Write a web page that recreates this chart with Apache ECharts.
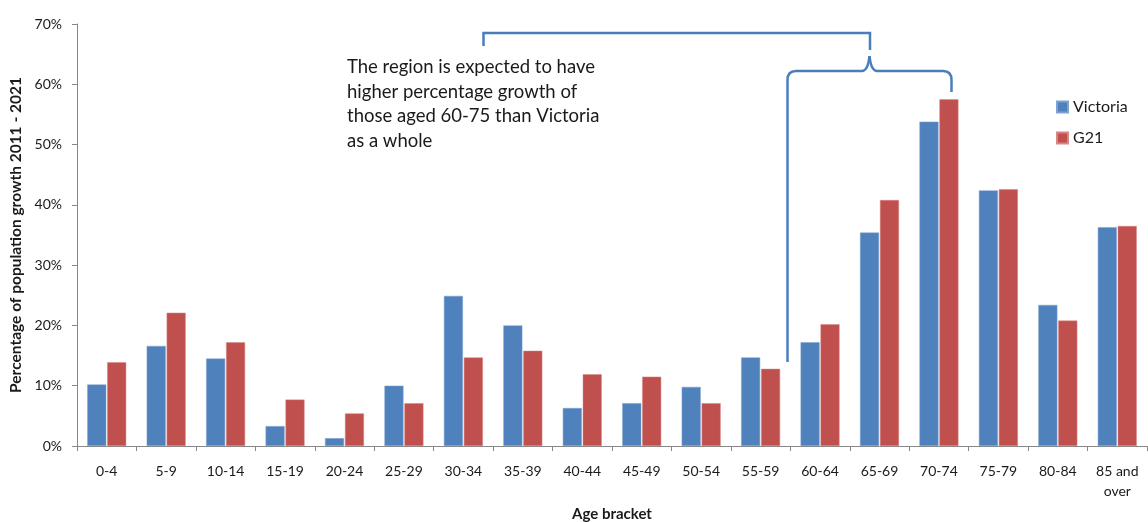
<!DOCTYPE html>
<html>
<head>
    <meta charset="utf-8">
    <title>Population growth by age bracket</title>
    <script src="https://cdn.jsdelivr.net/npm/echarts@6/dist/echarts.min.js"></script>
    <style>
        html, body { margin: 0; padding: 0; background: #fff; }
        #chart { width: 1148px; height: 522px; }
    </style>
</head>
<body>
    <div id="chart"></div>
    <script>
        // age brackets (x axis)
        const ageBrackets = ['0-4', '5-9', '10-14', '15-19', '20-24', '25-29', '30-34', '35-39', '40-44',
            '45-49', '50-54', '55-59', '60-64', '65-69', '70-74', '75-79', '80-84', '85 and over'];
        // growth 2011-2021, in %
        const victoria = [10.2, 16.6, 14.5, 3.3, 1.3, 10.0, 24.9, 20.0, 6.3, 7.1, 9.8, 14.7, 17.2, 35.4, 53.8, 42.4, 23.4, 36.3];
        const g21 = [13.9, 22.1, 17.2, 7.7, 5.4, 7.1, 14.7, 15.8, 11.9, 11.5, 7.1, 12.8, 20.2, 40.8, 57.5, 42.6, 20.8, 36.5];
        const yTicks = [0, 10, 20, 30, 40, 50, 60, 70];

        const font = 'Lato, "Open Sans", sans-serif';
        const braceColor = '#4a7ebb';
        const braceStyle = { stroke: braceColor, lineWidth: 2.5, fill: null };

        // brace pieces (annotation only)
        function seg(x1, y1, x2, y2) {
            return { type: 'line', shape: { x1: x1, y1: y1, x2: x2, y2: y2 }, style: braceStyle };
        }
        function curve(x1, y1, cx, cy, x2, y2) {
            return { type: 'bezierCurve', shape: { x1: x1, y1: y1, cpx1: cx, cpy1: cy, x2: x2, y2: y2 }, style: braceStyle };
        }

        let chart = echarts.init(document.getElementById('chart'));
        chart.setOption({
            animation: false,
            textStyle: { fontFamily: font, color: '#1a1a1a' },
            grid: { left: 77, right: 1, top: 24, bottom: 76, containLabel: false, outerBoundsMode: 'none' },
            legend: {
                orient: 'vertical',
                left: 1051,
                top: 94,
                itemWidth: 11,
                itemHeight: 11,
                itemGap: 15,
                icon: 'rect',
                textStyle: { fontFamily: font, fontSize: 16, color: '#1a1a1a' },
                data: ['Victoria', 'G21']
            },
            xAxis: {
                type: 'category',
                data: ageBrackets,
                name: 'Age bracket',
                nameLocation: 'middle',
                nameGap: 61,
                nameTextStyle: { fontWeight: 'bold', fontSize: 15, color: '#1a1a1a' },
                axisLine: { lineStyle: { color: '#888', width: 1 } },
                axisTick: { show: true, length: 5, lineStyle: { color: '#888' } },
                axisLabel: {
                    fontSize: 14,
                    color: '#1a1a1a',
                    margin: 15,
                    lineHeight: 20,
                    formatter: v => v.replace(' over', '\nover')
                }
            },
            yAxis: {
                type: 'value',
                min: yTicks[0],
                max: yTicks[yTicks.length - 1],
                interval: 10,
                name: 'Percentage of population growth 2011 - 2021',
                nameLocation: 'middle',
                nameGap: 53,
                nameTextStyle: { fontWeight: 'bold', fontSize: 15.5, color: '#1a1a1a' },
                splitLine: { show: false },
                axisLine: { show: true, lineStyle: { color: '#888', width: 1 } },
                axisTick: { show: true, length: 5, lineStyle: { color: '#888' } },
                axisLabel: { fontSize: 14, color: '#1a1a1a', margin: 15, formatter: '{value}%' }
            },
            series: [
                {
                    name: 'Victoria',
                    type: 'bar',
                    data: victoria,
                    barWidth: 19,
                    barGap: '5%',
                    itemStyle: { color: '#4f81bd', borderColor: '#7fa3d0', borderWidth: 0.5 }
                },
                {
                    name: 'G21',
                    type: 'bar',
                    data: g21,
                    barWidth: 19,
                    barGap: '5%',
                    itemStyle: { color: '#c0504d', borderColor: '#d98583', borderWidth: 0.5 }
                }
            ],
            graphic: [
                {
                    type: 'text',
                    left: 347,
                    top: 55,
                    style: {
                        text: 'The region is expected to have\nhigher percentage growth of\nthose aged 60-75 than Victoria\nas a whole',
                        font: '18.5px ' + font,
                        fill: '#1a1a1a',
                        lineHeight: 24.5
                    }
                },
                {
                    type: 'polyline',
                    shape: { points: [[483.5, 46], [483.5, 33], [870, 33], [870, 50]] },
                    style: braceStyle
                },
                seg(787.5, 362, 787.5, 80),
                curve(787.5, 80, 787.5, 71, 796, 71),
                seg(796, 71, 862, 71),
                curve(862, 71, 868, 71, 869.5, 56),
                curve(869.5, 56, 871, 71, 877, 71),
                seg(877, 71, 943, 71),
                curve(943, 71, 951.5, 71, 951.5, 80),
                seg(951.5, 80, 951.5, 92)
            ]
        });
    </script>
</body>
</html>
